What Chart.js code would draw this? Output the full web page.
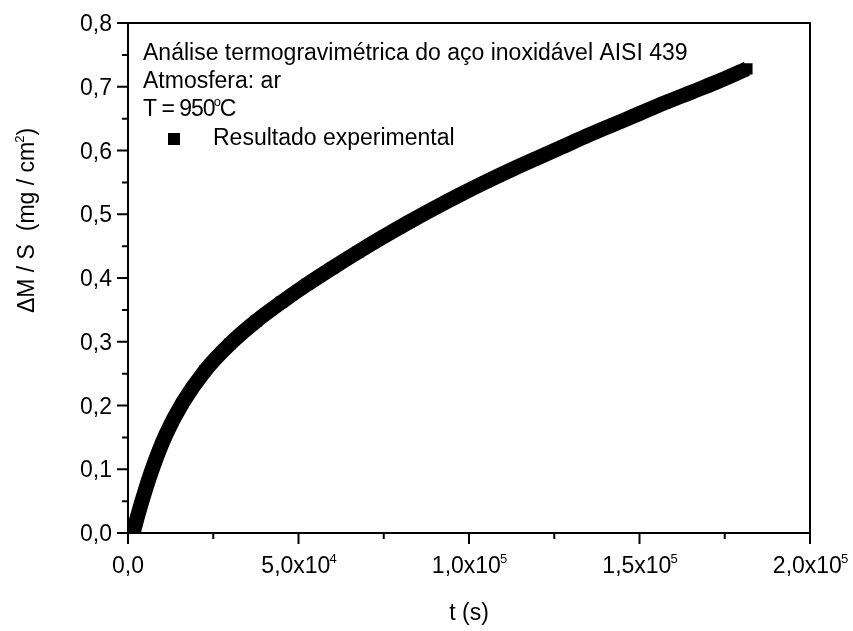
<!DOCTYPE html>
<html>
<head>
<meta charset="utf-8">
<script src="https://cdn.jsdelivr.net/npm/chart.js@4/dist/chart.umd.min.js"></script>
<style>
  html, body { margin: 0; padding: 0; background: #fff; }
  #wrap { width: 853px; height: 631px; }
</style>
</head>
<body>
<div id="wrap"><canvas id="myChart"></canvas></div>
<script>
// TGA do AISI 439, 950 C em ar: ganho de massa por area x tempo
const tempo = [1500, 3000, 5000, 7500, 11000, 16000, 22500, 30000, 37500, 45000,
  52500, 60000, 67500, 75000, 82500, 90000, 97500, 105000, 112500, 120000,
  127500, 135000, 142500, 150000, 157500, 165000, 172500, 181500];
const ganhoMassa = [0.000, 0.030, 0.066, 0.106, 0.153, 0.204, 0.254, 0.297, 0.332, 0.362,
  0.390, 0.416, 0.441, 0.465, 0.488, 0.510, 0.531, 0.551, 0.570, 0.588,
  0.606, 0.624, 0.641, 0.658, 0.675, 0.691, 0.707, 0.728];

const xTicks = [0, 50000, 100000, 150000, 200000];
const xTickBase = ['0,0', '5,0x10', '1,0x10', '1,5x10', '2,0x10'];
const xTickExp = ['', '4', '5', '5', '5'];
const xMinor = [25000, 75000, 125000, 175000];
const yTicks = [0, 0.1, 0.2, 0.3, 0.4, 0.5, 0.6, 0.7, 0.8];
const yTickLabels = ['0,0', '0,1', '0,2', '0,3', '0,4', '0,5', '0,6', '0,7', '0,8'];
const yMinor = [0.05, 0.15, 0.25, 0.35, 0.45, 0.55, 0.65, 0.75];

const textoInfo = ['Análise termogravimétrica do aço inoxidável AISI 439', 'Atmosfera: ar'];
const serieNome = 'Resultado experimental';

const FONTE = 'Arial, "Liberation Sans", sans-serif';

function fonte(ctx, px) {
  ctx.font = px + 'px ' + FONTE;
}

// escreve pedacos em sequencia: [texto, sobrescrito?]
function escrevePartes(ctx, partes, x, y) {
  let cx = x;
  partes.forEach(p => {
    if (p[1]) {
      fonte(ctx, 13);
      ctx.fillText(p[0], cx - 1, y - 10);
      cx += ctx.measureText(p[0]).width - 1;
    } else {
      fonte(ctx, 23);
      ctx.fillText(p[0], cx, y);
      cx += ctx.measureText(p[0]).width;
    }
  });
  return cx - x;
}

function larguraPartes(ctx, partes) {
  let w = 0;
  partes.forEach(p => {
    fonte(ctx, p[1] ? 13 : 23);
    w += ctx.measureText(p[0]).width - (p[1] ? 2 : 0);
  });
  return w;
}

const eixos = {
  id: 'eixos',
  afterDraw(chart) {
    const ctx = chart.ctx;
    const a = chart.chartArea;
    const xs = chart.scales.x;
    const ys = chart.scales.y;
    ctx.save();
    ctx.strokeStyle = '#000';
    ctx.fillStyle = '#000';
    ctx.lineWidth = 2;
    ctx.strokeRect(a.left, a.top, a.right - a.left, a.bottom - a.top);

    // marcas dos eixos
    ctx.beginPath();
    xTicks.forEach(v => { const px = xs.getPixelForValue(v); ctx.moveTo(px, a.bottom); ctx.lineTo(px, a.bottom + 11); });
    xMinor.forEach(v => { const px = xs.getPixelForValue(v); ctx.moveTo(px, a.bottom); ctx.lineTo(px, a.bottom + 6); });
    yTicks.forEach(v => { const py = ys.getPixelForValue(v); ctx.moveTo(a.left, py); ctx.lineTo(a.left - 11, py); });
    yMinor.forEach(v => { const py = ys.getPixelForValue(v); ctx.moveTo(a.left, py); ctx.lineTo(a.left - 6, py); });
    ctx.stroke();

    ctx.textBaseline = 'alphabetic';
    ctx.textAlign = 'left';

    // rotulos x
    xTicks.forEach((v, i) => {
      const partes = [[xTickBase[i], false]];
      if (xTickExp[i]) partes.push([xTickExp[i], true]);
      const w = larguraPartes(ctx, partes);
      escrevePartes(ctx, partes, xs.getPixelForValue(v) - w / 2, a.bottom + 40);
    });

    // rotulos y
    fonte(ctx, 23);
    ctx.textAlign = 'right';
    yTicks.forEach((v, i) => {
      ctx.fillText(yTickLabels[i], a.left - 16, ys.getPixelForValue(v) + 8);
    });

    // titulos
    ctx.textAlign = 'center';
    ctx.fillText('t (s)', (a.left + a.right) / 2, a.bottom + 87);
    ctx.textAlign = 'left';
    const tituloY = [['ΔM / S  (mg / cm', false], ['2', true], [')', false]];
    ctx.save();
    ctx.translate(34, 221);
    ctx.rotate(-Math.PI / 2);
    escrevePartes(ctx, tituloY, -larguraPartes(ctx, tituloY) / 2, 0);
    ctx.restore();

    // bloco de texto e legenda
    const x0 = a.left + 15;
    fonte(ctx, 23);
    ctx.fillText(textoInfo[0], x0, a.top + 37);
    ctx.fillText(textoInfo[1], x0, a.top + 65);
    ctx.letterSpacing = '-1px';
    escrevePartes(ctx, [['T = 950', false], ['o', true], ['C', false]], x0, a.top + 93);
    ctx.letterSpacing = '0px';
    ctx.fillRect(a.left + 40, a.top + 110, 12, 12);
    fonte(ctx, 23);
    ctx.fillText(serieNome, a.left + 85, a.top + 122);
    ctx.restore();
  }
};

const ctx = document.getElementById('myChart');
const myChart = new Chart(ctx, {
  type: 'scatter',
  data: {
    datasets: [{
      label: serieNome,
      data: tempo.map((t, i) => ({ x: t, y: ganhoMassa[i] })),
      showLine: true,
      cubicInterpolationMode: 'monotone',
      borderColor: '#000',
      borderWidth: 15,
      pointStyle: 'rect',
      pointRadius: 8,
      pointBorderWidth: 0,
      pointBackgroundColor: '#000',
      clip: 0
    }]
  },
  options: {
    responsive: true,
    maintainAspectRatio: false,
    animation: false,
    layout: { padding: { left: 128, top: 23, right: 43, bottom: 98 } },
    scales: {
      x: { type: 'linear', min: 0, max: 200000, display: false },
      y: { type: 'linear', min: 0, max: 0.8, display: false }
    },
    plugins: {
      legend: { display: false },
      tooltip: { enabled: false }
    }
  },
  plugins: [eixos]
});
</script>
</body>
</html>
